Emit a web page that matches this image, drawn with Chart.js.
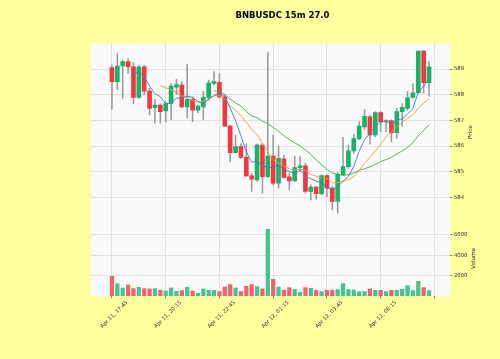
<!DOCTYPE html>
<html>
<head>
<meta charset="utf-8">
<script src="https://cdn.jsdelivr.net/npm/chart.js@4.4.1/dist/chart.umd.min.js"></script>
<style>
  html, body { margin: 0; padding: 0; background: #ffff9e; }
  canvas { display: block; }
</style>
</head>
<body>
<canvas id="chart" width="500" height="359"></canvas>
<script>
// BNBUSDC 15m candles, Apr 11 17:45 -> Apr 12 08:30
const opens = [
  589.06, 588.51, 589.12, 589.29, 589.09, 587.90, 589.09, 588.14, 587.50, 587.60,
  587.37, 587.66, 588.30, 588.38, 587.53, 587.82, 587.40, 587.53, 587.90, 588.44,
  588.48, 587.92, 586.78, 585.74, 585.98, 585.56, 584.84, 584.68, 586.04, 584.81,
  585.61, 584.55, 585.50, 584.80, 584.64, 585.16, 585.23, 584.23, 584.40, 584.14,
  584.85, 584.36, 583.84, 584.88, 585.20, 585.81, 586.29, 586.75, 587.14, 586.43,
  587.31, 586.95, 586.99, 586.52, 587.34, 587.47, 587.90, 588.08, 589.70, 588.47
];
const highs = [
  589.16, 589.61, 589.35, 589.41, 589.25, 589.16, 589.16, 588.25, 587.82, 587.66,
  587.73, 588.44, 588.60, 588.50, 589.19, 587.92, 587.60, 588.12, 588.57, 588.90,
  588.83, 587.99, 586.82, 586.43, 586.10, 586.10, 584.94, 586.08, 586.10, 589.64,
  586.43, 586.00, 585.65, 584.97, 585.61, 585.61, 585.33, 584.49, 584.42, 584.88,
  584.88, 584.42, 584.97, 586.34, 586.04, 586.47, 586.95, 587.42, 587.21, 587.34,
  587.34, 587.02, 587.02, 587.47, 587.66, 588.12, 588.44, 589.70, 589.72, 589.29
];
const lows = [
  587.44, 588.21, 587.86, 588.83, 587.64, 587.86, 587.99, 587.21, 586.89, 586.89,
  586.95, 587.02, 588.00, 587.50, 587.10, 586.95, 587.30, 587.04, 587.79, 588.38,
  587.86, 586.76, 585.39, 585.72, 585.52, 584.81, 584.23, 584.62, 584.16, 584.78,
  584.50, 584.36, 584.74, 584.30, 584.62, 585.00, 584.16, 583.90, 583.93, 584.10,
  584.03, 583.51, 583.38, 584.84, 585.13, 585.72, 586.24, 586.65, 586.08, 586.37,
  586.56, 586.56, 586.17, 586.30, 586.78, 587.40, 587.86, 588.06, 588.06, 587.95
];
const closes = [
  588.51, 589.12, 589.29, 589.09, 587.90, 589.09, 588.14, 587.47, 587.60, 587.34,
  587.66, 588.34, 588.40, 587.53, 587.82, 587.40, 587.56, 587.90, 588.47, 588.51,
  587.92, 586.78, 585.74, 585.98, 585.56, 584.84, 584.71, 586.04, 584.81, 585.61,
  584.55, 585.52, 584.78, 584.64, 585.16, 585.23, 584.23, 584.40, 584.14, 584.85,
  584.36, 583.84, 584.90, 585.20, 585.81, 586.29, 586.78, 587.16, 586.43, 587.31,
  586.95, 586.98, 586.52, 587.34, 587.51, 587.88, 588.08, 589.70, 588.47, 589.09
];
const volumes = [
  1930, 1215, 785, 1080, 725, 850, 725, 690, 725, 560,
  490, 785, 460, 525, 850, 490, 265, 690, 560, 560,
  430, 885, 1115, 785, 430, 950, 1115, 920, 690, 6535,
  1640, 880, 560, 820, 655, 360, 820, 755, 560, 430,
  560, 560, 625, 1215, 625, 590, 430, 430, 690, 560,
  560, 430, 560, 560, 655, 1020, 525, 1440, 820, 525
];

const tickPos = [0, 10, 20, 30, 40, 50, 60];
const tickLabels = ['Apr 11, 17:45', 'Apr 11, 20:15', 'Apr 11, 22:45', 'Apr 12, 01:15', 'Apr 12, 03:45', 'Apr 12, 06:15', ''];
const priceTicks = [584, 585, 586, 587, 588, 589];
const volumeTicks = [2000, 4000, 6000];
const maPeriods = [5, 10, 20];
const maColors = ['#3f7fb0', '#f19a45', '#52a552'];

const UP = '#17b26b', DOWN = '#f4363f';
const VUP = '#45c48d', VDOWN = '#f1626b';

function sma(values, n) {
  const out = [];
  for (let i = n - 1; i < values.length; i++) {
    let s = 0;
    for (let k = i - n + 1; k <= i; k++) s += values[k];
    out.push({ x: i, y: s / n });
  }
  return out;
}

const isUp = closes.map((c, i) => c >= opens[i]);

const panelPlugin = {
  id: 'panel',
  beforeDraw(chart) {
    const { ctx, chartArea: a } = chart;
    ctx.save();
    ctx.fillStyle = '#fafafa';
    ctx.fillRect(a.left, a.top, a.right - a.left, a.bottom - a.top);
    ctx.restore();
  },
  afterDraw(chart) {
    const ctx = chart.ctx;
    [['y', 'Price'], ['v', 'Volume']].forEach(([id, text]) => {
      const s = chart.scales[id];
      ctx.save();
      ctx.font = '5.3px "DejaVu Sans"';
      let w = 0;
      s.ticks.forEach(t => { w = Math.max(w, ctx.measureText(String(t.label)).width); });
      ctx.font = '5.6px "DejaVu Sans"';
      ctx.translate(s.left + 4 + w + 6, (s.top + s.bottom) / 2);
      ctx.rotate(-Math.PI / 2);
      ctx.textAlign = 'center';
      ctx.textBaseline = 'middle';
      ctx.fillStyle = '#222';
      ctx.fillText(text, 0, 0);
      ctx.restore();
    });
  }
};

Chart.defaults.font.family = 'DejaVu Sans';

const gridOpts = { color: '#dcdcdc', lineWidth: 0.8, tickLength: 2.5, tickColor: '#666', offset: false };

new Chart(document.getElementById('chart'), {
  type: 'bar',
  plugins: [panelPlugin],
  data: {
    datasets: [
      ...maPeriods.map((n, k) => ({
        type: 'line',
        data: sma(closes, n),
        yAxisID: 'y',
        borderColor: maColors[k],
        borderWidth: 0.9,
        pointRadius: 0,
        tension: 0,
        order: 0
      })),
      {
        data: lows.map((l, i) => ({ x: i, y: [l, highs[i]] })),
        yAxisID: 'y',
        backgroundColor: '#9a9a9a',
        barThickness: 0.9,
        grouped: false,
        order: 3
      },
      {
        data: opens.map((o, i) => ({ x: i, y: [o, closes[i]] })),
        yAxisID: 'y',
        backgroundColor: isUp.map(u => u ? UP : DOWN),
        barThickness: 4,
        minBarLength: 1,
        grouped: false,
        order: 2
      },
      {
        data: volumes.map((v, i) => ({ x: i, y: v })),
        yAxisID: 'v',
        backgroundColor: isUp.map(u => u ? VUP : VDOWN),
        barThickness: 3.6,
        grouped: false,
        order: 2
      }
    ]
  },
  options: {
    responsive: false,
    animation: false,
    layout: { padding: { left: 91, right: 26, top: 0, bottom: 23 } },
    plugins: {
      legend: { display: false },
      tooltip: { enabled: false },
      title: {
        display: true,
        text: 'BNBUSDC 15m 27.0',
        color: '#000',
        font: { size: 8.5, weight: 'bold' },
        padding: { top: 11, bottom: 22 }
      }
    },
    scales: {
      x: {
        type: 'linear',
        offset: false,
        min: -3.9,
        max: 62.9,
        afterBuildTicks: s => { s.ticks = tickPos.map(v => ({ value: v })); },
        afterFit: s => { s.height = 40; },
        ticks: {
          callback: v => tickLabels[tickPos.indexOf(v)],
          minRotation: 45,
          maxRotation: 45,
          labelOffset: 15,
          padding: 1,
          color: '#333',
          font: { size: 5.3 }
        },
        grid: gridOpts,
        border: { display: false }
      },
      y: {
        type: 'linear',
        position: 'right',
        stack: 'panels',
        stackWeight: 2.37,
        min: 583.08,
        max: 590.01,
        afterBuildTicks: s => { s.ticks = priceTicks.map(v => ({ value: v })); },
        afterFit: s => { s.width = 24; },
        ticks: { callback: v => String(v), padding: 1.5, color: '#333', font: { size: 5.3 } },
        grid: gridOpts,
        border: { display: false }
      },
      v: {
        type: 'linear',
        position: 'right',
        stack: 'panels',
        stackWeight: 1,
        min: 0,
        max: 7350,
        afterBuildTicks: s => { s.ticks = volumeTicks.map(v => ({ value: v })); },
        afterFit: s => { s.width = 24; },
        ticks: { callback: v => String(v), padding: 1.5, color: '#333', font: { size: 5.3 } },
        grid: gridOpts,
        border: { display: false }
      }
    }
  }
});
</script>
</body>
</html>
